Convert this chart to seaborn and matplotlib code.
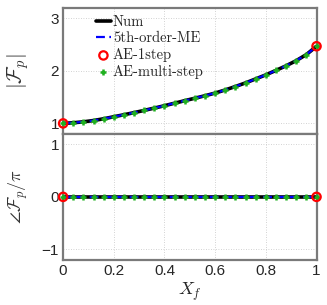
import numpy as np
import pandas as pd
import matplotlib
matplotlib.use("Agg")
import matplotlib.pyplot as plt
import seaborn as sns

# ---- data ----
x_f = [0.00, 0.04, 0.08, 0.12, 0.16, 0.20, 0.24, 0.28, 0.32, 0.36, 0.40, 0.44, 0.48,
       0.52, 0.56, 0.60, 0.64, 0.68, 0.72, 0.76, 0.80, 0.84, 0.88, 0.92, 0.96, 1.00]
mag = [1.000, 1.012, 1.030, 1.055, 1.088, 1.127, 1.165, 1.205, 1.248, 1.292, 1.337, 1.385, 1.433,
       1.480, 1.527, 1.578, 1.638, 1.703, 1.772, 1.848, 1.925, 2.010, 2.098, 2.196, 2.312, 2.470]
phase = [0.0] * 26
x_1step = [0.0, 1.0]
mag_1step = [1.000, 2.470]
phase_1step = [0.0, 0.0]
series_names = ["Num", "5th-order-ME", "AE-1step", "AE-multi-step"]
x_ticks = [0, 0.2, 0.4, 0.6, 0.8, 1]
x_ticklabels = ["0", "0.2", "0.4", "0.6", "0.8", "1"]

df = pd.DataFrame({"x": x_f, "mag": mag, "phase": phase})
df1 = pd.DataFrame({"x": x_1step, "mag": mag_1step, "phase": phase_1step})

sns.set_style("white")
plt.rcParams["font.family"] = ["Liberation Sans", "DejaVu Sans"]
plt.rcParams["mathtext.fontset"] = "cm"

fig = plt.figure(figsize=(3.27, 3.05), dpi=100)
ax1 = fig.add_axes([0.193, 0.561, 0.775, 0.413])
ax2 = fig.add_axes([0.193, 0.148, 0.775, 0.413])

green = "#1fb01f"
for ax, col in [(ax1, "mag"), (ax2, "phase")]:
    sns.lineplot(data=df, x="x", y=col, ax=ax, color="black", lw=2.6, label=series_names[0], zorder=2)
    sns.lineplot(data=df, x="x", y=col, ax=ax, color="#0000ff", lw=1.6, label=series_names[1],
                 dashes=False, zorder=3)
    ax.lines[-1].set_dashes([4, 2])
    sns.scatterplot(data=df1, x="x", y=col, ax=ax, marker="o", s=36, facecolor="none",
                    edgecolor="red", linewidth=1.6, label=series_names[2], zorder=5, clip_on=False)
    sns.scatterplot(data=df, x="x", y=col, ax=ax, marker="+", s=22, color=green,
                    linewidth=1.8, label=series_names[3], zorder=4, clip_on=False)
    ax.set_xlim(0, 1)
    ax.set_xticks(x_ticks)
    ax.grid(True, linestyle=(0, (1, 2)), color="#c4c4c4", lw=0.6)
    ax.tick_params(direction="in", length=3, width=0.8, color="#555555", labelsize=11, pad=3)
    for sp in ax.spines.values():
        sp.set_color("#7a7a7a")
        sp.set_linewidth(1.6)
    ax.set_xlabel("")

ax1.set_ylim(0.8, 3.2)
ax1.set_yticks([1, 2, 3])
ax1.set_xticklabels([])
ax1.set_ylabel(r"$|\mathcal{F}_p|$", fontsize=15, labelpad=14, color="#333333")
ax2.set_ylim(-1.2, 1.2)
ax2.set_yticks([-1, 0, 1])
ax2.set_yticklabels(["\u22121", "0", "1"])
ax2.set_xticklabels(x_ticklabels)
ax2.set_ylabel(r"$\angle\mathcal{F}_p/\pi$", fontsize=13, labelpad=8, color="#333333")
ax2.set_xlabel(r"$X_f$", fontsize=13, labelpad=2)

ax2.get_legend().remove()
h, l = ax1.get_legend_handles_labels()
leg = ax1.legend(h, l, loc="upper left", bbox_to_anchor=(0.09, 1.025), frameon=False,
                 handlelength=1.0, handletextpad=0.15, labelspacing=0.2, borderpad=0.2,
                 prop={"family": "cmr10", "size": 10.5})

fig.savefig("out.png", dpi=100)
